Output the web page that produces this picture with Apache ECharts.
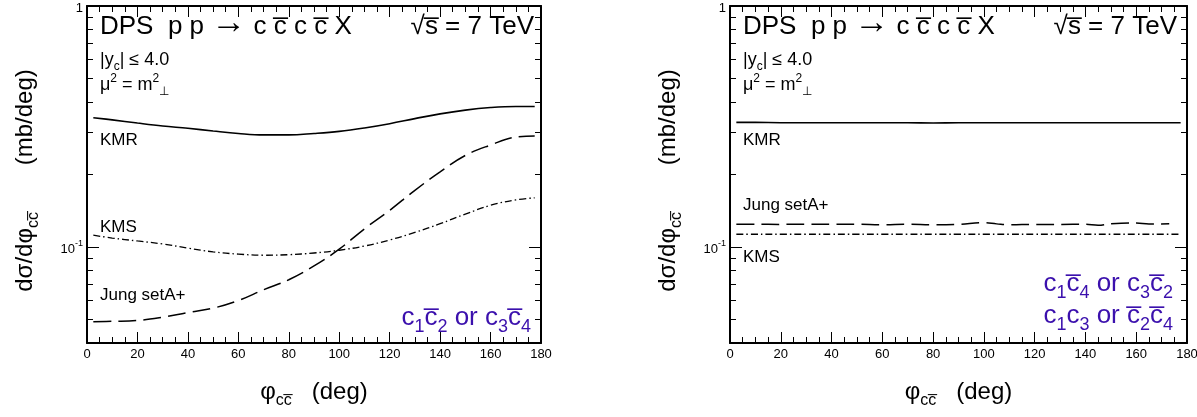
<!DOCTYPE html>
<html>
<head>
<meta charset="utf-8" />
<title>DPS cc̄cc̄</title>
<style>
  * { margin: 0; padding: 0; }
  #chart-container { width: 1197px; height: 417px; background: #fff; }
</style>
</head>
<body>
<div id="chart-container"></div>
<script src="https://cdn.jsdelivr.net/npm/echarts@6/dist/echarts.min.js"></script>
<script>
// ---- data ----
var phiLeft = [2.5, 10, 20, 30, 40, 50, 60, 70, 80, 90, 100, 110, 120, 130, 140, 150, 160, 170, 177.5];
var kmrLeft = [0.344, 0.337, 0.327, 0.318, 0.311, 0.303, 0.296, 0.292, 0.292, 0.296, 0.302, 0.312, 0.325, 0.341, 0.357, 0.370, 0.379, 0.383, 0.383];
var kmsLeft = [0.112, 0.109, 0.106, 0.103, 0.099, 0.0955, 0.0935, 0.0925, 0.093, 0.0945, 0.097, 0.101, 0.107, 0.115, 0.125, 0.137, 0.149, 0.157, 0.160];
var jungLeft = [0.049, 0.0492, 0.0496, 0.0512, 0.0535, 0.0558, 0.060, 0.0665, 0.0732, 0.0835, 0.098, 0.119, 0.142, 0.172, 0.205, 0.240, 0.265, 0.286, 0.289];

var phiRight = [2.5, 10, 20, 30, 40, 50, 60, 70, 80, 90, 100, 110, 120, 130, 140, 150, 160, 170, 177.5];
var kmrRight = [0.329, 0.329, 0.328, 0.328, 0.328, 0.328, 0.328, 0.328, 0.327, 0.328, 0.328, 0.328, 0.328, 0.328, 0.328, 0.328, 0.328, 0.328, 0.328];
var kmsRight = [0.113, 0.113, 0.113, 0.113, 0.113, 0.113, 0.113, 0.113, 0.113, 0.113, 0.113, 0.113, 0.113, 0.113, 0.113, 0.113, 0.113, 0.113, 0.113];
var phiRightJung = [2.5, 10, 20, 30, 40, 50, 60, 70, 80, 90, 100, 105, 110, 120, 130, 140, 145, 150, 160, 165, 173];
var jungRight = [0.1245, 0.1245, 0.1242, 0.1245, 0.1243, 0.1245, 0.1238, 0.1244, 0.1237, 0.1242, 0.1262, 0.1248, 0.1237, 0.1242, 0.1242, 0.1243, 0.1232, 0.1248, 0.1258, 0.1247, 0.1248];

// axis ticks
var yMajorTicks = [0.1, 1];
var yMinorTicks = [0.04, 0.05, 0.06, 0.07, 0.08, 0.09, 0.2, 0.3, 0.4, 0.5, 0.6, 0.7, 0.8, 0.9];
var yMin = 0.04, yMax = 1;
var xMin = 0, xMax = 180, xStep = 20;

var FONT = "'Liberation Sans', Arial, sans-serif";
var PURPLE = "#3b10ad";

function zip(xs, ys) {
  return xs.map(function (x, i) { return [x, ys[i]]; });
}
function lg(v) { return Math.log10(v); }

function rich(size, color) {
  var lh = Math.round(size * 1.4);
  var small = Math.round(size * 0.68);
  return {
    b: { fontSize: size, lineHeight: lh, verticalAlign: "middle", fontFamily: FONT, color: color, fill: color },
    arr: { fontSize: Math.round(size * 1.35), lineHeight: lh, verticalAlign: "middle", padding: [0, 0, 8, 0], fontFamily: FONT, color: color, fill: color },
    sub: { fontSize: small, lineHeight: lh, verticalAlign: "bottom", fontFamily: FONT, color: color, fill: color },
    sup: { fontSize: small, lineHeight: lh, verticalAlign: "top", fontFamily: FONT, color: color, fill: color }
  };
}

function txt(x, y, text, size, align, color) {
  color = color || "#000";
  return {
    type: "text", x: x, y: y, silent: true,
    style: {
      text: text, rich: rich(size, color), fill: color,
      fontSize: size, fontFamily: FONT,
      align: align, verticalAlign: "middle",
      textAlign: align, textVerticalAlign: "middle"
    }
  };
}

// ticks point into the frame: negative length flips them inward
function ticks(len, values) {
  var t = { show: true, inside: false, length: -len, lineStyle: { color: "#000", width: 1 } };
  if (values) t.customValues = values;
  return t;
}

var grids = [
  { left: 87, top: 6, width: 454, height: 337 },
  { left: 730, top: 6, width: 457, height: 337 }
];

var xAxes = [], yAxes = [];
grids.forEach(function (g, gi) {
  var line = { show: true, onZero: false, lineStyle: { color: "#000", width: 2 } };
  var xBase = {
    type: "value", gridIndex: gi, min: xMin, max: xMax, interval: xStep,
    axisLine: line,
    axisTick: ticks(11),
    minorTick: { show: true, splitNumber: 4, length: -6, lineStyle: { color: "#000", width: 1 } },
    splitLine: { show: false }, minorSplitLine: { show: false }
  };
  xAxes.push(Object.assign({}, xBase, {
    position: "bottom",
    axisLabel: { show: true, margin: 5, fontSize: 13, fontFamily: FONT, color: "#000" },
    name: "{b|φ}{sub|cc\u0305}{b|   (deg)}",
    nameLocation: "middle", nameGap: 32, nameMoveOverlap: false,
    nameTextStyle: { rich: rich(24, "#000") }
  }));
  xAxes.push(Object.assign({}, xBase, { position: "top", axisLabel: { show: false } }));

  // data axis (log)
  yAxes.push({
    type: "log", gridIndex: gi, min: yMin, max: yMax, logBase: 10, show: false,
    axisLine: { show: false, onZero: false }, splitLine: { show: false }
  });
  var yBase = {
    type: "value", gridIndex: gi, min: lg(yMin), max: lg(yMax),
    splitLine: { show: false }, axisLabel: { show: false }
  };
  // major ticks + labels, left
  yAxes.push(Object.assign({}, yBase, {
    position: "left", axisLine: line,
    axisTick: ticks(12, yMajorTicks.map(lg)),
    axisLabel: {
      show: true, margin: 4, customValues: yMajorTicks.map(lg),
      formatter: function (v) {
        var e = Math.round(v);
        return e === 0 ? "{n|1}" : "{n|10}{sup|" + e + "}";
      },
      rich: {
        n: { fontSize: 13, lineHeight: 17, verticalAlign: "bottom", fontFamily: FONT, color: "#000" },
        sup: { fontSize: 9, lineHeight: 17, verticalAlign: "top", fontFamily: FONT, color: "#000" }
      }
    },
    name: "{b|dσ/dφ}{sub|cc\u0305}{b|       (mb/deg)}",
    nameLocation: "middle", nameRotate: 90, nameGap: 45, nameMoveOverlap: false,
    nameTextStyle: { rich: rich(24, "#000"), padding: [0, 12, 0, 0] }
  }));
  // minor ticks, left
  yAxes.push(Object.assign({}, yBase, {
    position: "left", axisLine: { show: false, onZero: false },
    axisTick: ticks(6, yMinorTicks.map(lg))
  }));
  // right side mirrors
  yAxes.push(Object.assign({}, yBase, {
    position: "right", axisLine: line,
    axisTick: ticks(12, yMajorTicks.map(lg))
  }));
  yAxes.push(Object.assign({}, yBase, {
    position: "right", axisLine: { show: false, onZero: false },
    axisTick: ticks(6, yMinorTicks.map(lg))
  }));
});

function curve(name, xs, ys, gi, lineType, width) {
  return {
    name: name, type: "line", xAxisIndex: gi * 2, yAxisIndex: gi * 5,
    data: zip(xs, ys), symbol: "none", smooth: 0.4, silent: true,
    lineStyle: { color: "#000", width: width, type: lineType }
  };
}

var series = [
  curve("KMR", phiLeft, kmrLeft, 0, "solid", 1.6),
  curve("KMS", phiLeft, kmsLeft, 0, [7, 3, 1.5, 3], 1.3),
  curve("Jung setA+", phiLeft, jungLeft, 0, [18, 7], 1.5),
  curve("KMR", phiRight, kmrRight, 1, "solid", 1.6),
  curve("KMS", phiRight, kmsRight, 1, [7, 3, 1.5, 3], 1.3),
  curve("Jung setA+", phiRightJung, jungRight, 1, [18, 7], 1.5)
];

var graphics = [];
[0, 643].forEach(function (dx) {
  graphics.push(txt(100 + dx, 27, "{b|DPS  p p }{arr|→}{b| c c\u0305 c c\u0305 X}", 26, "left"));
  graphics.push(txt(534 + dx, 27, "{b|√s\u0305 = 7 TeV}", 26, "right"));
  graphics.push(txt(100 + dx, 60, "{b||y}{sub|c}{b|| ≤ 4.0}", 18, "left"));
  graphics.push(txt(100 + dx, 85, "{b|μ}{sup|2}{b| = m}{sup|2}{sub|⊥}", 18, "left"));
  graphics.push(txt(100 + dx, 140, "{b|KMR}", 17, "left"));
});
graphics.push(txt(100, 227, "{b|KMS}", 17, "left"));
graphics.push(txt(100, 295, "{b|Jung setA+}", 17, "left"));
graphics.push(txt(531, 318, "{b|c}{sub|1}{b|c\u0305}{sub|2} {b|or c}{sub|3}{b|c\u0305}{sub|4}", 26, "right", PURPLE));
graphics.push(txt(743, 205, "{b|Jung setA+}", 17, "left"));
graphics.push(txt(743, 257, "{b|KMS}", 17, "left"));
graphics.push(txt(1173, 284, "{b|c}{sub|1}{b|c\u0305}{sub|4} {b|or c}{sub|3}{b|c\u0305}{sub|2}", 26, "right", PURPLE));
graphics.push(txt(1173, 316, "{b|c}{sub|1}{b|c}{sub|3} {b|or c\u0305}{sub|2}{b|c\u0305}{sub|4}", 26, "right", PURPLE));

var dom = document.getElementById("chart-container");
var myChart = echarts.init(dom, null, { renderer: "canvas" });

var option = {
  animation: false,
  backgroundColor: "#fff",
  grid: grids.map(function (g) { return Object.assign({ containLabel: false, outerBoundsMode: "none" }, g); }),
  xAxis: xAxes,
  yAxis: yAxes,
  series: series,
  graphic: graphics
};

myChart.setOption(option);
window.addEventListener("resize", myChart.resize);
</script>
</body>
</html>
